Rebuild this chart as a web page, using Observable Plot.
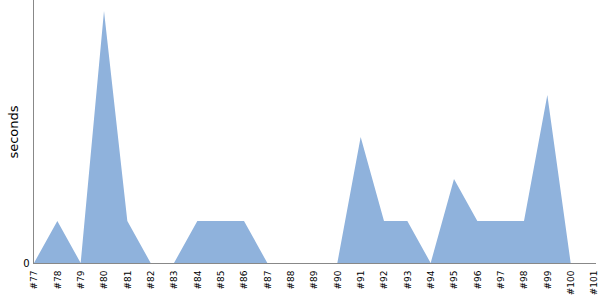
<!DOCTYPE html>
<html><head><meta charset="utf-8">
<script src="https://cdn.jsdelivr.net/npm/d3@7"></script>
<script src="https://cdn.jsdelivr.net/npm/@observablehq/plot@0.6"></script>
<style>body{margin:0;background:#fff;font-family:"DejaVu Sans",sans-serif}</style>
</head><body><div id="chart"></div>
<script>
const builds = ["#77","#78","#79","#80","#81","#82","#83","#84","#85","#86","#87","#88","#89","#90","#91","#92","#93","#94","#95","#96","#97","#98","#99","#100","#101"];
const seconds = [0,1,0,6,1,0,0,1,1,1,0,0,0,0,3,1,1,0,2,1,1,1,4,0,0];
const yTicks = [0];
const data = builds.map((b,i)=>({build:b, seconds:seconds[i]}));
const chart = Plot.plot({
  width: 600, height: 300,
  marginLeft: 34, marginRight: 6, marginTop: 0, marginBottom: 37,
  style: {fontFamily: "DejaVu Sans, sans-serif", fontSize: "9px", background: "#fff"},
  x: {type: "point", domain: builds, padding: 0, round: false, range: [34, 594]},
  y: {domain: [0, 6.26], ticks: yTicks, range: [263, 0]},
  marks: [
    Plot.areaY(data, {x: "build", y: "seconds", fill: "#8fb2dc", curve: "linear"}),
    Plot.ruleX([builds[0]], {dx: -1, stroke: "#888"}),
    Plot.ruleY([0], {stroke: "#888", insetLeft: -1, insetRight: -2}),
    Plot.axisX({tickSize: 0, tickPadding: 7, tickRotate: -90, label: null, fontSize: 9, fill: "#000"}),
    Plot.axisY({ticks: yTicks, tickFormat: d => String(d), tickSize: 0, tickPadding: 5, label: null, fontSize: 10, fill: "#000"}),
    Plot.text(["seconds"], {frameAnchor: "left", textAnchor: "middle", dx: -21, rotate: -90, fontSize: 13, fill: "#000"})
  ]
});
document.getElementById("chart").appendChild(chart);
</script></body></html>
